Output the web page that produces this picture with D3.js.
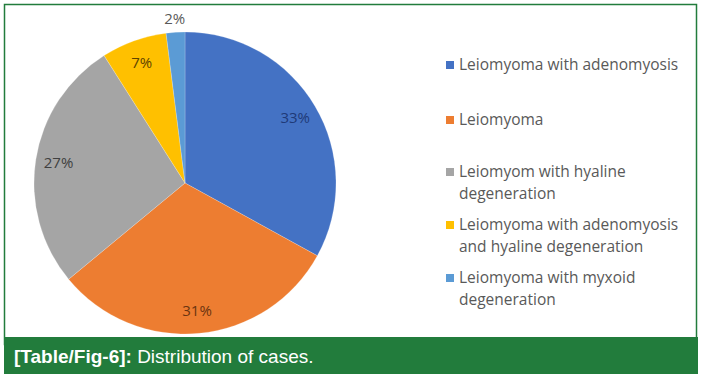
<!DOCTYPE html>
<html>
<head>
<meta charset="utf-8">
<script src="https://cdn.jsdelivr.net/npm/d3@7"></script>
<style>
  body { margin: 0; background: #fff; }
  svg { display: block; }
</style>
</head>
<body>
<div id="chart"></div>
<script>
// slice data, clockwise from 12 o'clock
var categories = ["Leiomyoma with adenomyosis", "Leiomyoma", "Leiomyom with hyaline degeneration",
  "Leiomyoma with adenomyosis and hyaline degeneration", "Leiomyoma with myxoid degeneration"];
var values = [33, 31, 27, 7, 2];
var legendLines = [
  ["Leiomyoma with adenomyosis"],
  ["Leiomyoma"],
  ["Leiomyom with hyaline", "degeneration"],
  ["Leiomyoma with adenomyosis", "and hyaline degeneration"],
  ["Leiomyoma with myxoid", "degeneration"]
];
var colors = ["#4472C4", "#ED7D31", "#A5A5A5", "#FFC000", "#5B9BD5"];
var labelColors = ["#1f3a78", "#6b3410", "#404040", "#5e4400", "#595959"];

var width = 702, height = 376;
var green = "#227c3c";

var svg = d3.select("#chart").append("svg")
  .attr("width", width)
  .attr("height", height);

// frame
svg.append("rect")
  .attr("x", 4.5).attr("y", 4.5)
  .attr("width", 692).attr("height", 340)
  .attr("fill", "none")
  .attr("stroke", green)
  .attr("stroke-width", 1.5);

// pie
var cx = 185, cy = 183, radius = 151;

var pie = d3.pie().sort(null).value(function(d) { return d; });
var arcs = pie(values);

var arc = d3.arc().innerRadius(0).outerRadius(radius);
var labelArc = d3.arc().innerRadius(128).outerRadius(128);
var outerLabelArc = d3.arc().innerRadius(165).outerRadius(165);

var g = svg.append("g")
  .attr("transform", "translate(" + cx + "," + cy + ")");

g.selectAll(".slice")
  .data(arcs)
  .enter().append("path")
  .attr("class", "slice")
  .attr("d", arc)
  .attr("fill", function(d, i) { return colors[i]; })
  .attr("stroke", "#fff")
  .attr("stroke-opacity", 0.4)
  .attr("stroke-width", 0.5);

g.selectAll(".lbl")
  .data(arcs)
  .enter().append("text")
  .attr("class", "lbl")
  .attr("transform", function(d) {
    var c = (d.data < 5 ? outerLabelArc : labelArc).centroid(d);
    return "translate(" + c[0] + "," + c[1] + ")";
  })
  .attr("text-anchor", "middle")
  .attr("dy", "0.35em")
  .style("font-family", "'Open Sans', sans-serif")
  .style("font-size", "15px")
  .attr("fill", function(d, i) { return labelColors[i]; })
  .text(function(d) { return d.data + "%"; });

// legend
var legendY = [65, 120, 172, 225, 278];
var legend = svg.append("g");

legendLines.forEach(function(lines, i) {
  legend.append("rect")
    .attr("x", 446)
    .attr("y", legendY[i] - 4)
    .attr("width", 8)
    .attr("height", 8)
    .attr("fill", colors[i]);

  var t = legend.append("text")
    .attr("x", 459)
    .attr("y", legendY[i])
    .style("font-family", "'Open Sans', sans-serif")
    .style("font-size", "15.5px")
    .attr("fill", "#595959");

  lines.forEach(function(line, j) {
    t.append("tspan")
      .attr("x", 459)
      .attr("dy", j == 0 ? "0.35em" : "22px")
      .text(line);
  });
});

// caption bar
svg.append("rect")
  .attr("x", 4).attr("y", 337)
  .attr("width", 694).attr("height", 37)
  .attr("fill", green);

var cap = svg.append("text")
  .attr("x", 14)
  .attr("y", 363)
  .style("font-family", "'Liberation Sans', Arial, sans-serif")
  .style("font-size", "19px")
  .attr("fill", "#fff");
cap.append("tspan").style("font-weight", "bold").text("[Table/Fig-6]:");
cap.append("tspan").text(" Distribution of cases.");
</script>
</body>
</html>
